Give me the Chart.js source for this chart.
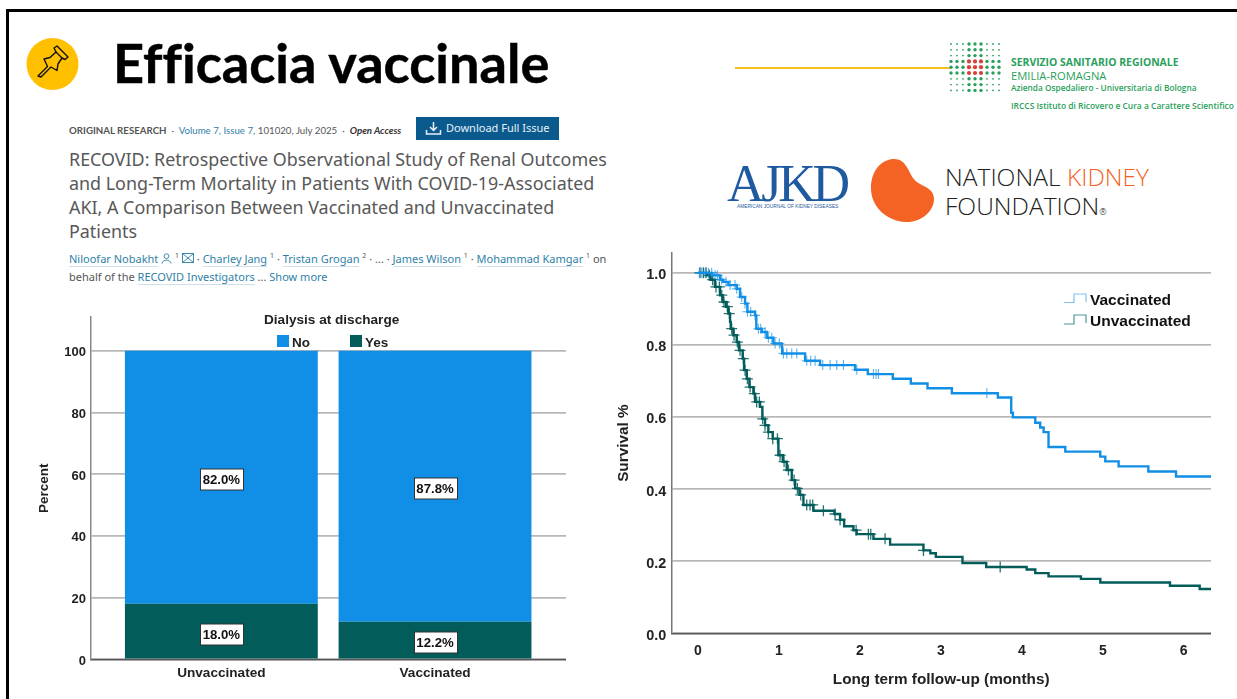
<!DOCTYPE html>
<html lang="it">
<head>
<meta charset="utf-8">
<title>Efficacia vaccinale</title>
<script src="https://cdn.jsdelivr.net/npm/chart.js@4"></script>
<style>
  html, body { margin: 0; padding: 0; background: #fff; }
  body { width: 1237px; height: 699px; overflow: hidden; position: relative; font-family: "Liberation Sans", Arial, sans-serif; }
  .frame-top { position: absolute; left: 6px; top: 9px; width: 1231px; height: 3px; background: #000; }
  .frame-left { position: absolute; left: 6px; top: 9px; width: 3px; height: 690px; background: #000; }
  .t { position: absolute; white-space: nowrap; line-height: 1; }
  .title { left: 113px; top: 30px; font: 700 54.1px Lato, sans-serif; color: #000; font-variant-ligatures: none; -webkit-text-stroke: 0.5px #000; }
  .meta { font-family: Lato, sans-serif; font-size: 9.7px; color: #555; }
  .link { color: #2f7fa8; }
  .head { left: 69px; font: 400 17.9px "Noto Sans", sans-serif; color: #585858; }
  .auth { left: 69px; font: 400 11px "Noto Sans", sans-serif; color: #555; }
  .auth .link { border-bottom: 1px solid #cfe0ea; }
  .auth sup { font-size: 7px; line-height: 0; }
  .btn { position: absolute; left: 416px; top: 117px; width: 143px; height: 23px; background: #0b5a8e; }
  .btn span { position: absolute; left: 30px; top: 3px; font: 400 11px "Noto Sans", sans-serif; color: #e8f1f7; white-space: nowrap; }
  .green { color: #2a9f5b; font-family: "Open Sans", sans-serif; }
  .kidney { font: 300 24.6px "Open Sans", sans-serif; color: #222; }
  canvas { position: absolute; }
  .chart-title { left: 264px; top: 312px; font: 700 13.6px "Liberation Sans", sans-serif; color: #222; }
  .leg { font: 700 13.5px "Liberation Sans", sans-serif; color: #222; }
  .swatch { position: absolute; width: 12px; height: 12px; top: 335px; }
  .leg2 { left: 1090px; font: 700 15.5px "Liberation Sans", sans-serif; color: #111; }
</style>
</head>
<body>
<div class="frame-top"></div>
<div class="frame-left"></div>

<svg style="position:absolute;left:20px;top:30px" width="70" height="70" viewBox="0 0 70 70">
  <ellipse cx="32.5" cy="34" rx="26" ry="26" fill="#ffc000"/>
  <g fill="none" stroke="#111" stroke-width="1.4" stroke-linejoin="round" stroke-linecap="round">
    <path d="M18 46 L27.5 36.5 L24 29 L30 27.5 L36 22 L34 18 L37 16 L48 27 L45 29.5 L42 28 L38 34 L37 40.5 L31 37 L21 47 Z"/>
    <path d="M36 22 L42 28"/>
  </g>
</svg>
<div class="t title">Efficacia vaccinale</div>

<div class="t meta" style="left:69px;top:126px"><b>ORIGINAL RESEARCH</b> &nbsp;·&nbsp; <span class="link">Volume 7, Issue 7,</span> 101020, July 2025 &nbsp;·&nbsp; <b style="color:#333"><i>Open Access</i></b></div>
<div class="btn">
  <svg style="position:absolute;left:9px;top:4px" width="17" height="15" viewBox="0 0 17 15" fill="none" stroke="#e8f1f7" stroke-width="1.5">
    <path d="M8.5 1 V9 M5 6 L8.5 9.5 L12 6 M1.5 9 V13 H15.5 V9"/>
  </svg>
  <span>Download Full Issue</span>
</div>
<div class="t head" style="top:147px">RECOVID: Retrospective Observational Study of Renal Outcomes</div>
<div class="t head" style="top:171px">and Long-Term Mortality in Patients With COVID-19-Associated</div>
<div class="t head" style="top:195px">AKI, A Comparison Between Vaccinated and Unvaccinated</div>
<div class="t head" style="top:219px">Patients</div>
<div class="t auth" style="top:251px"><span class="link">Niloofar Nobakht</span>
  <svg width="11" height="11" viewBox="0 0 11 11" fill="none" stroke="#2f7fa8" stroke-width="0.9" style="vertical-align:-1px"><circle cx="5.5" cy="3.2" r="2.4"/><path d="M1 10.5 C1.5 6 9.5 6 10 10.5"/></svg>
  <sup>1</sup>
  <svg width="12" height="10" viewBox="0 0 12 10" fill="none" stroke="#2f7fa8" stroke-width="0.9" style="vertical-align:0"><rect x="0.5" y="0.5" width="11" height="9"/><path d="M0.5 0.5 L11.5 9.5 M11.5 0.5 L0.5 9.5"/></svg>
  · <span class="link">Charley Jang</span> <sup>1</sup> · <span class="link">Tristan Grogan</span> <sup>2</sup> · ... · <span class="link">James Wilson</span> <sup>1</sup> · <span class="link">Mohammad Kamgar</span> <sup>1</sup> on</div>
<div class="t auth" style="top:269px">behalf of the <span class="link">RECOVID Investigators</span> ... <span class="link" style="border:0">Show more</span></div>

<div style="position:absolute;left:735px;top:67px;width:215px;height:2px;background:#f5be1e"></div>
<svg id="dots" style="position:absolute;left:948px;top:41px" width="54" height="54"></svg>
<div class="t green" style="left:1011px;top:57px;font-size:10.4px;font-weight:700">SERVIZIO SANITARIO REGIONALE</div>
<div class="t green" style="left:1011px;top:70px;font-size:11.2px;font-weight:400">EMILIA-ROMAGNA</div>
<div class="t green" style="left:1011px;top:84px;font-size:8.3px;font-weight:600">Azienda Ospedaliero - Universitaria di Bologna</div>
<div class="t green" style="left:1011px;top:102px;font-size:8.45px;font-weight:600">IRCCS Istituto di Ricovero e Cura a Carattere Scientifico</div>

<div class="t" style="left:727px;top:158px;font:400 52px/1 'Liberation Serif',serif;color:#1f5aa0;letter-spacing:-3.3px">AJKD</div>
<div class="t" style="left:737px;top:205px;font:400 4.8px/1 'Liberation Sans',sans-serif;color:#1f5aa0;background:#fff">AMERICAN JOURNAL OF KIDNEY DISEASES</div>
<svg style="position:absolute;left:865px;top:155px" width="72" height="72" viewBox="865 155 72 72">
  <path d="M893 159 C905 158 908 170 913 178 C919 187 934 186 934 199 C934 212 920 223 905 222 C888 221 871 208 871 188 C871 172 880 160 893 159 Z" fill="#f46224"/>
</svg>
<div class="t kidney" style="left:945px;top:160px">NATIONAL <span style="color:#f46224">KIDNEY</span></div>
<div class="t kidney" style="left:945px;top:189px">FOUNDATION<span style="font-size:9px">®</span></div>

<canvas id="bars" style="left:30px;top:310px"></canvas>
<div class="t chart-title">Dialysis at discharge</div>
<div class="swatch" id="swNo" style="left:277px"></div>
<div class="t leg" id="lgNo" style="left:292px;top:335px"></div>
<div class="swatch" id="swYes" style="left:350px"></div>
<div class="t leg" id="lgYes" style="left:365px;top:335px"></div>

<canvas id="survival" style="left:610px;top:246px"></canvas>
<svg style="position:absolute;left:1064px;top:291px" width="26" height="36" fill="none" stroke-width="1.2">
  <path d="M0 11.5 H10 V3 H22 V11" stroke="#7fc0f0"/>
  <path d="M0 33 H10 V24 H22 V32" stroke="#4e9694"/>
</svg>
<div class="t leg2" id="lgVacc" style="top:291px"></div>
<div class="t leg2" id="lgUnvacc" style="top:312px"></div>

<script>
// DATI
const categories = ['Unvaccinated', 'Vaccinated'];
const dialysisNo = [82.0, 87.8];
const dialysisYes = [18.0, 12.2];
const dialysisTicks = [0, 20, 40, 60, 80, 100];

const vaccinatedTimes = [0, 0.17, 0.27, 0.313, 0.375, 0.478, 0.519, 0.581, 0.61, 0.705, 0.72, 0.787, 0.849, 0.931, 1.034, 1.04, 1.323, 1.508, 1.94, 2.097, 2.406, 2.629, 2.835, 3.136, 3.704, 3.869, 3.89, 4.166, 4.227, 4.269, 4.33, 4.537, 4.969, 5.031, 5.196, 5.563, 5.905, 6.34];
const vaccinatedSurvival = [1, 0.993, 0.981, 0.975, 0.966, 0.956, 0.933, 0.915, 0.892, 0.882, 0.845, 0.836, 0.82, 0.804, 0.794, 0.776, 0.756, 0.744, 0.731, 0.719, 0.706, 0.693, 0.68, 0.666, 0.654, 0.612, 0.599, 0.584, 0.571, 0.558, 0.517, 0.504, 0.49, 0.477, 0.463, 0.449, 0.435, 0.435];
const vaccinatedCensored = [0.016, 0.045, 0.087, 0.128, 0.169, 0.21, 0.239, 0.293, 0.346, 0.396, 0.457, 0.478, 0.54, 0.581, 0.61, 0.651, 0.705, 0.746, 0.775, 0.828, 0.869, 0.911, 0.952, 1.005, 1.055, 1.096, 1.158, 1.22, 1.343, 1.393, 1.446, 1.541, 1.632, 1.714, 1.796, 1.961, 2.167, 2.2, 2.229, 3.568];

const unvaccinatedTimes = [0, 0.107, 0.157, 0.21, 0.272, 0.305, 0.346, 0.375, 0.396, 0.404, 0.437, 0.478, 0.507, 0.552, 0.569, 0.602, 0.635, 0.684, 0.705, 0.766, 0.795, 0.828, 0.869, 0.923, 0.993, 1.047, 1.096, 1.158, 1.2, 1.253, 1.302, 1.426, 1.685, 1.755, 1.805, 1.92, 1.96, 2.167, 2.373, 2.785, 2.87, 2.938, 3.267, 3.56, 4.06, 4.166, 4.33, 4.73, 4.97, 5.83, 6.197, 6.34];
const unvaccinatedSurvival = [1, 0.993, 0.981, 0.961, 0.938, 0.919, 0.906, 0.887, 0.864, 0.845, 0.827, 0.808, 0.785, 0.762, 0.73, 0.706, 0.683, 0.665, 0.642, 0.628, 0.595, 0.577, 0.558, 0.54, 0.494, 0.476, 0.453, 0.425, 0.402, 0.384, 0.356, 0.34, 0.331, 0.315, 0.297, 0.286, 0.275, 0.262, 0.246, 0.23, 0.222, 0.212, 0.195, 0.184, 0.177, 0.167, 0.158, 0.151, 0.141, 0.132, 0.123, 0.123];
const unvaccinatedCensored = [0.025, 0.066, 0.099, 0.14, 0.181, 0.222, 0.264, 0.293, 0.321, 0.362, 0.387, 0.416, 0.445, 0.486, 0.519, 0.56, 0.581, 0.61, 0.643, 0.696, 0.725, 0.758, 0.799, 0.828, 0.869, 0.923, 0.981, 1.014, 1.063, 1.117, 1.187, 1.228, 1.269, 1.343, 1.384, 1.417, 1.549, 1.693, 1.755, 1.953, 2.105, 2.134, 2.311, 2.785, 3.733];

const survivalTicks = [0, 0.2, 0.4, 0.6, 0.8, 1.0];
const monthTicks = [0, 1, 2, 3, 4, 5, 6];

const BLUE = '#118fe6';
const TEAL = '#015c5a';
const GRID = '#b8b8b8';
const TEXT = '#222';

// LEGENDE
document.getElementById('swNo').style.background = BLUE;
document.getElementById('swYes').style.background = TEAL;
document.getElementById('lgNo').textContent = 'No';
document.getElementById('lgYes').textContent = 'Yes';
document.getElementById('lgVacc').textContent = 'Vaccinated';
document.getElementById('lgUnvacc').textContent = 'Unvaccinated';

// LOGO A PUNTINI
const dots = document.getElementById('dots');
let dotsHtml = '';
for (let r = 0; r < 9; r++) {
  for (let c = 0; c < 9; c++) {
    const midR = r >= 3 && r <= 5;
    const midC = c >= 3 && c <= 5;
    const size = midR && midC ? 2.1 : (midR || midC ? 1.7 : 0.9);
    const color = midR && midC ? '#d8413a' : '#2a9f5b';
    dotsHtml += `<circle cx="${3 + c * 6}" cy="${3 + r * 5.8}" r="${size}" fill="${color}"/>`;
  }
}
dots.innerHTML = dotsHtml;

// Etichette con riquadro bianco sulle barre
const boxLabels = {
  id: 'boxLabels',
  afterDatasetsDraw(chart) {
    const ctx = chart.ctx;
    const yScale = chart.scales.y;
    ctx.save();
    ctx.font = '700 13.2px "Liberation Sans"';
    ctx.textAlign = 'center';
    ctx.textBaseline = 'middle';
    categories.forEach((cat, i) => {
      const yes = dialysisYes[i];
      const no = dialysisNo[i];
      const x = chart.getDatasetMeta(0).data[i].x;
      [[yes / 2, yes], [yes + no / 2, no]].forEach(([pos, val]) => {
        const y = Math.round(yScale.getPixelForValue(pos) + 2) + 0.5;
        const left = Math.round(x - 21.5) + 0.5;
        ctx.fillStyle = '#fff';
        ctx.strokeStyle = '#333';
        ctx.lineWidth = 1;
        ctx.fillRect(left, y - 10.5, 43, 21);
        ctx.strokeRect(left, y - 10.5, 43, 21);
        ctx.fillStyle = '#111';
        ctx.fillText(val.toFixed(1) + '%', x, y + 0.5);
      });
    });
    ctx.restore();
  }
};

function setSize(canvas, w, h) {
  canvas.width = w;
  canvas.height = h;
  canvas.style.width = w + 'px';
  canvas.style.height = h + 'px';
}

// Toglie il margine automatico delle scale, l'area del grafico resta fissa
function fixAxis(scale, size) {
  if (scale.isHorizontal()) scale.height = size;
  else scale.width = size;
  scale.paddingTop = 0;
  scale.paddingBottom = 0;
  scale.paddingLeft = 0;
  scale.paddingRight = 0;
}

// GRAFICO A BARRE
const barsCanvas = document.getElementById('bars');
setSize(barsCanvas, 536, 375);
new Chart(barsCanvas, {
  type: 'bar',
  data: {
    labels: categories.map((c, i) => i),
    datasets: [
      { label: 'Yes', data: dialysisYes, backgroundColor: TEAL, barPercentage: 0.9026, categoryPercentage: 1 },
      { label: 'No', data: dialysisNo, backgroundColor: BLUE, barPercentage: 0.9026, categoryPercentage: 1 }
    ]
  },
  options: {
    responsive: false,
    animation: false,
    layout: { autoPadding: false, padding: { top: 7, right: 0, bottom: 0, left: 0 } },
    plugins: { legend: { display: false }, title: { display: false }, tooltip: { enabled: false } },
    scales: {
      x: {
        type: 'linear',
        offset: false,
        stacked: true,
        min: -0.61,
        max: 1.613,
        afterFit: s => fixAxis(s, 25.7),
        afterBuildTicks: s => { s.ticks = categories.map((c, i) => ({ value: i })); },
        grid: { display: false, drawTicks: false },
        border: { color: '#555', width: 1.5 },
        ticks: {
          padding: 6,
          maxRotation: 0,
          color: TEXT,
          font: { family: 'Liberation Sans', size: 13.6, weight: '700' },
          callback: v => categories[v]
        }
      },
      y: {
        stacked: true,
        min: 0,
        max: 110.9,
        afterFit: s => fixAxis(s, 61),
        afterBuildTicks: s => { s.ticks = dialysisTicks.map(v => ({ value: v })); },
        grid: { color: GRID, lineWidth: 1.7, drawTicks: false },
        border: { color: '#888', width: 1.5 },
        title: {
          display: true,
          text: 'Percent',
          color: TEXT,
          padding: { top: 6, bottom: 0 },
          font: { family: 'Liberation Sans', size: 13.5, weight: '700' }
        },
        ticks: {
          padding: 5,
          labelOffset: 2,
          color: TEXT,
          font: { family: 'Liberation Sans', size: 13, weight: '700' }
        }
      }
    }
  },
  plugins: [boxLabels]
});

// Valore della curva al tempo t
function survivalAt(times, values, t) {
  let s = values[0];
  times.forEach((time, i) => { if (time <= t) s = values[i]; });
  return s;
}

function toPoints(times, values) {
  return times.map((t, i) => ({ x: t, y: values[i] }));
}

function censorPoints(censored, times, values) {
  return censored.map(t => ({ x: t, y: survivalAt(times, values, t) }));
}

// CURVE DI SOPRAVVIVENZA
const survivalCanvas = document.getElementById('survival');
setSize(survivalCanvas, 601, 443);
new Chart(survivalCanvas, {
  type: 'scatter',
  data: {
    datasets: [
      {
        label: 'Vaccinated',
        data: toPoints(vaccinatedTimes, vaccinatedSurvival),
        showLine: true,
        stepped: 'before',
        borderColor: BLUE,
        borderWidth: 2.4,
        pointRadius: 0
      },
      {
        label: 'Vaccinated censored',
        data: censorPoints(vaccinatedCensored, vaccinatedTimes, vaccinatedSurvival),
        pointStyle: 'cross',
        pointRadius: 5,
        pointBorderWidth: 1.1,
        pointBorderColor: 'rgba(17, 143, 230, 0.7)'
      },
      {
        label: 'Unvaccinated',
        data: toPoints(unvaccinatedTimes, unvaccinatedSurvival),
        showLine: true,
        stepped: 'before',
        borderColor: TEAL,
        borderWidth: 2.4,
        pointRadius: 0
      },
      {
        label: 'Unvaccinated censored',
        data: censorPoints(unvaccinatedCensored, unvaccinatedTimes, unvaccinatedSurvival),
        pointStyle: 'cross',
        pointRadius: 5.5,
        pointBorderWidth: 1.3,
        pointBorderColor: 'rgba(1, 92, 90, 0.85)'
      }
    ]
  },
  options: {
    responsive: false,
    animation: false,
    layout: { autoPadding: false, padding: { top: 7, right: 0, bottom: 0, left: 0 } },
    plugins: { legend: { display: false }, title: { display: false }, tooltip: { enabled: false } },
    scales: {
      x: {
        type: 'linear',
        min: -0.33,
        max: 6.337,
        afterFit: s => fixAxis(s, 55.7),
        afterBuildTicks: s => { s.ticks = monthTicks.map(v => ({ value: v })); },
        grid: { display: false, drawTicks: false },
        border: { color: '#555', width: 1.5 },
        title: {
          display: true,
          text: 'Long term follow-up (months)',
          color: TEXT,
          padding: { top: 0, bottom: 0 },
          font: { family: 'Liberation Sans', size: 15.3, weight: '700' }
        },
        ticks: {
          padding: 9,
          maxRotation: 0,
          color: TEXT,
          font: { family: 'Liberation Sans', size: 14, weight: '700' }
        }
      },
      y: {
        min: 0,
        max: 1.055,
        afterFit: s => fixAxis(s, 61.3),
        afterBuildTicks: s => { s.ticks = survivalTicks.map(v => ({ value: v })); },
        grid: { color: GRID, lineWidth: 1.7, drawTicks: false },
        border: { color: '#777', width: 1.5 },
        title: {
          display: true,
          text: 'Survival %',
          color: TEXT,
          padding: { top: 5, bottom: 0 },
          font: { family: 'Liberation Sans', size: 15.3, weight: '700' }
        },
        ticks: {
          padding: 5,
          labelOffset: 2.5,
          color: TEXT,
          font: { family: 'Liberation Sans', size: 14.4, weight: '700' },
          callback: v => v.toFixed(1)
        }
      }
    }
  }
});
</script>
</body>
</html>
